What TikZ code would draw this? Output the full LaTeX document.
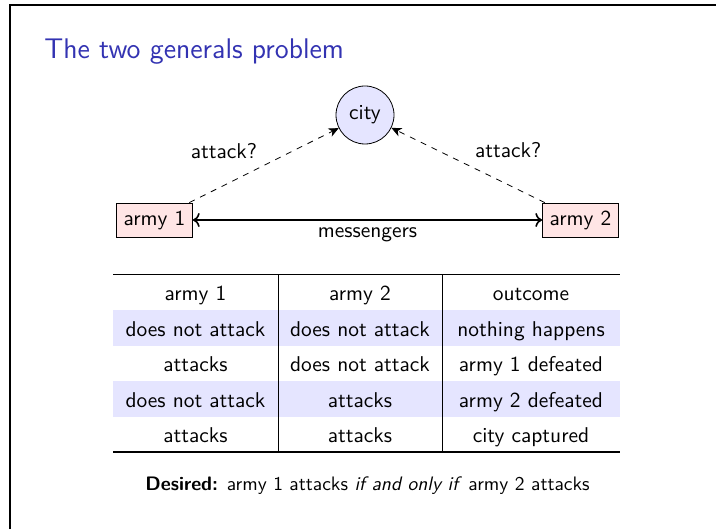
\documentclass[tikz,border=0pt]{standalone}
\usetikzlibrary{arrows.meta}
\definecolor{titleblue}{rgb}{0.2,0.2,0.7}
\begin{document}
\begin{tikzpicture}[x=0.5pt,y=-0.5pt,
  every node/.style={font=\sffamily\fontsize{10.7}{13}\selectfont},
  army/.style={draw, fill=red!10, inner xsep=3.6pt, inner ysep=3pt, minimum height=17pt, line width=0.4pt},
  citynode/.style={draw, circle, fill=blue!10, minimum size=29pt, inner sep=0pt, line width=0.4pt},
  cell/.style={anchor=base, inner sep=0pt},
  shade/.style={fill=blue!10, draw=none},
  rulethick/.style={line width=0.8pt},
  rulethin/.style={line width=0.4pt},
  attackarrow/.style={dashed, -{Stealth[length=5pt,width=4.5pt,inset=1.5pt]}}]
\useasboundingbox (0,0) rectangle (716,529);
% frame lines
\draw[line width=1pt] (9.5,529) -- (9.5,5.5) -- (716,5.5);
% title
\node[anchor=base west, inner sep=0pt, text=titleblue, font=\sffamily\fontsize{14.2}{17}\selectfont] (title) at (44,59) {The two generals problem};
% diagram
\node[citynode] (city) at (365,115) {city};
\node[army] (a1) at (154.5,220) {army 1};
\node[army] (a2) at (580.5,220) {army 2};
\draw[thick,<->] (a1) -- node[below, inner sep=3.5pt] {messengers} (a2);
\draw[attackarrow] (a1) -- node[above left] {attack?} (city);
\draw[attackarrow] (a2) -- node[above right] {attack?} (city);
% table shading
\fill[shade] (113,310) rectangle (620,345.5);
\fill[shade] (113,381) rectangle (620,416.5);
% rules
\draw[rulethick] (113,274.5) -- (620,274.5);
\draw[rulethick] (113,452) -- (620,452);
\draw[rulethin] (278,274.5) -- (278,452);
\draw[rulethin] (442,274.5) -- (442,452);
% cells
\node[cell] (h1) at (195.5,300) {army 1};
\node[cell] (h2) at (360,300) {army 2};
\node[cell] (h3) at (531,300) {outcome};
\node[cell] (r1c1) at (195.5,336) {does not attack};
\node[cell] (r1c2) at (360,336) {does not attack};
\node[cell] (r1c3) at (531,336) {nothing happens};
\node[cell] (r2c1) at (195.5,371) {attacks};
\node[cell] (r2c2) at (360,371) {does not attack};
\node[cell] (r2c3) at (531,371) {army 1 defeated};
\node[cell] (r3c1) at (195.5,407) {does not attack};
\node[cell] (r3c2) at (360,407) {attacks};
\node[cell] (r3c3) at (531,407) {army 2 defeated};
\node[cell] (r4c1) at (195.5,442) {attacks};
\node[cell] (r4c2) at (360,442) {attacks};
\node[cell] (r4c3) at (531,442) {city captured};
% footer
\node[cell, font=\sffamily\fontsize{9.75}{12}\selectfont] (desired) at (367.5,490) {\textbf{Desired:} army 1 attacks \textit{if and only if} army 2 attacks};
\end{tikzpicture}
\end{document}
